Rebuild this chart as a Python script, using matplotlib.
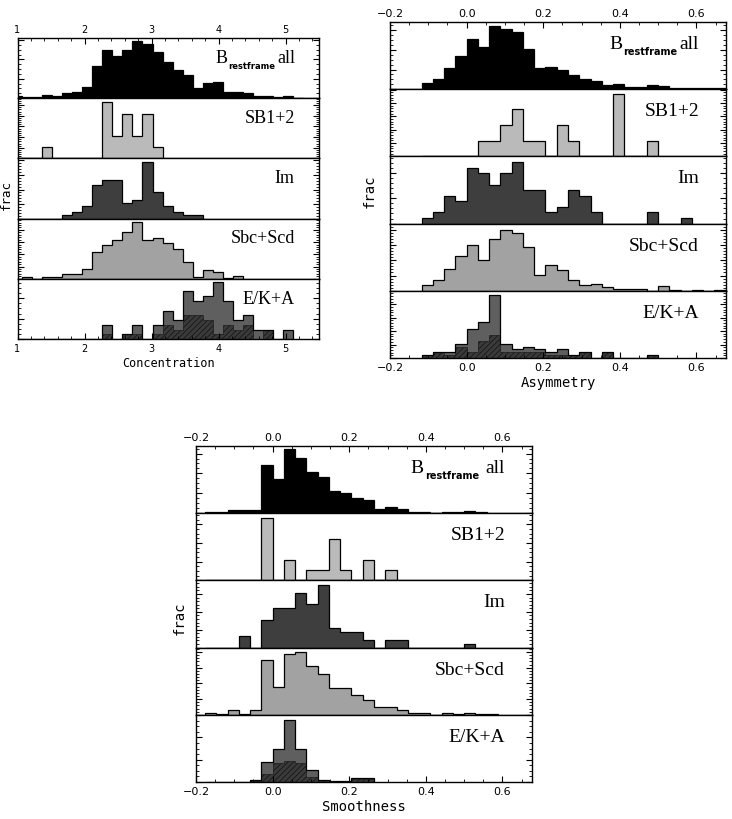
import matplotlib

matplotlib.use("Agg")

import matplotlib.pyplot as plt
import numpy as np
from matplotlib.ticker import AutoMinorLocator, MultipleLocator

# ---- histogram data (frac per bin) ----
# Concentration: bins of 0.15 starting at 0.915
conc_start, conc_width = 0.915, 0.15
conc_all = [0.006, 0.002, 0.002, 0.009, 0.005, 0.014, 0.016, 0.030, 0.084, 0.124,
            0.109, 0.124, 0.147, 0.140, 0.120, 0.092, 0.072, 0.061, 0.025, 0.038,
            0.042, 0.016, 0.015, 0.013, 0.005, 0.005, 0.002, 0.006, 0.0]
conc_sb = [0, 0, 0, 0.053, 0, 0, 0, 0, 0, 0.263, 0.105, 0.211, 0.105, 0.211, 0.053]
conc_im = [0, 0, 0, 0, 0, 0.011, 0.023, 0.043, 0.114, 0.134, 0.134, 0.052, 0.063,
           0.193, 0.091, 0.043, 0.023, 0.011, 0.011]
conc_sbc = [0, 0.009, 0, 0.009, 0.009, 0.020, 0.020, 0.039, 0.111, 0.138, 0.158,
            0.192, 0.232, 0.158, 0.165, 0.147, 0.122, 0.068, 0.009, 0.034, 0.026,
            0.003, 0.012]
conc_eka = [0, 0, 0, 0, 0, 0, 0, 0, 0, 0.035, 0, 0.012, 0.035, 0, 0.035, 0.070,
            0.047, 0.117, 0.094, 0.105, 0.140, 0.094, 0.047, 0.058, 0.023, 0.023,
            0, 0.023]
conc_eka_e = [0, 0, 0, 0, 0, 0, 0, 0, 0, 0.012, 0, 0.012, 0.012, 0, 0.012, 0.035,
              0.023, 0.058, 0.058, 0.047, 0.012, 0.035, 0.023, 0.035, 0, 0.023,
              0, 0]

# Asymmetry: bins of 0.0294 starting at -0.1176
asym_start, asym_width = -0.1176, 0.0294
asym_all = [0.015, 0.027, 0.055, 0.084, 0.128, 0.107, 0.162, 0.152, 0.145, 0.103,
            0.053, 0.056, 0.050, 0.036, 0.026, 0.021, 0.011, 0.014, 0.005, 0.005,
            0.010, 0.007, 0.002, 0.003, 0.003, 0.002, 0.003]
asym_sb = [0, 0, 0, 0, 0, 0.059, 0.059, 0.118, 0.176, 0.059, 0.059, 0, 0.118,
           0.059, 0, 0, 0, 0.235, 0, 0, 0.059]
asym_im = [0.011, 0.022, 0.055, 0.044, 0.110, 0.099, 0.077, 0.099, 0.121, 0.066,
           0.066, 0.022, 0.033, 0.066, 0.055, 0.022, 0, 0, 0, 0, 0.022, 0, 0,
           0.011]
asym_sbc = [0.019, 0.034, 0.072, 0.114, 0.149, 0.101, 0.170, 0.200, 0.189, 0.143,
            0.053, 0.083, 0.067, 0.034, 0.018, 0.023, 0.011, 0.007, 0.005, 0.005,
            0, 0.016, 0.003, 0, 0.003, 0, 0.003]
asym_eka = [0.011, 0.024, 0.024, 0.052, 0.108, 0.133, 0.234, 0.052, 0.033, 0.040,
            0.033, 0.024, 0.033, 0.011, 0.024, 0, 0.024, 0, 0, 0, 0.011]
asym_eka_e = [0.011, 0.024, 0.011, 0.040, 0.024, 0.064, 0.086, 0.024, 0.024, 0.024,
              0.024, 0.011, 0.011, 0.011, 0.024, 0, 0.024, 0, 0, 0, 0.011]

# Smoothness: bins of 0.0294 starting at -0.1764
smooth_start, smooth_width = -0.1764, 0.0294
smooth_all = [0.003, 0.002, 0.007, 0.007, 0.009, 0.120, 0.086, 0.161, 0.139, 0.103,
              0.092, 0.057, 0.050, 0.038, 0.032, 0.010, 0.015, 0.010, 0.004, 0.002,
              0, 0.003, 0.002, 0.005, 0.002]
smooth_sb = [0, 0, 0, 0, 0, 0.333, 0, 0.111, 0, 0.056, 0.056, 0.222, 0.056, 0,
             0.111, 0, 0.056]
smooth_im = [0, 0, 0, 0.033, 0, 0.077, 0.110, 0.110, 0.154, 0.121, 0.176, 0.055,
             0.044, 0.044, 0.022, 0, 0.022, 0.022, 0, 0, 0, 0, 0, 0.011]
smooth_sbc = [0.006, 0.002, 0.015, 0.002, 0.015, 0.176, 0.087, 0.195, 0.200, 0.154,
              0.131, 0.086, 0.086, 0.064, 0.046, 0.024, 0.024, 0.014, 0.006, 0.006,
              0, 0.006, 0.004, 0.006, 0.002, 0.002]
smooth_eka = [0, 0, 0, 0, 0.004, 0.045, 0.075, 0.140, 0.075, 0.028, 0.005, 0.003,
              0.003, 0.009, 0.009]
smooth_eka_e = [0, 0, 0, 0, 0.003, 0.019, 0.043, 0.048, 0.043, 0.011, 0.005, 0.003,
                0.003, 0.006, 0.006]

class_labels = ["all", "SB1+2", "Im", "Sbc+Scd", "E/K+A"]
class_colors = ["#000000", "#bababa", "#3e3e3e", "#a2a2a2", "#5f5f5f"]

W, H = 732, 820
plt.rcParams["font.family"] = "DejaVu Sans"
plt.rcParams["hatch.linewidth"] = 0.5
plt.rcParams["hatch.color"] = "#111111"
fig = plt.figure(figsize=(W / 100, H / 100), dpi=100)


def add_class_label(ax, label, size, sub_size, sub_gap):
    kw = dict(family="Liberation Serif", fontsize=size)
    if label != "all":
        ax.text(0.92, 0.68, label, transform=ax.transAxes, ha="right", va="center", **kw)
        return
    t_all = ax.text(0.92, 0.68, "all", transform=ax.transAxes, ha="right",
                    va="center", **kw)
    t_sub = ax.annotate("restframe", xy=(0, 0), xycoords=t_all,
                        xytext=(-sub_gap, -3), textcoords="offset points",
                        ha="right", va="bottom", fontsize=sub_size,
                        fontweight="bold")
    ax.annotate("B", xy=(0, 0), xycoords=(t_sub, t_all), xytext=(-0.5, 0),
                textcoords="offset points", ha="right", va="bottom", **kw)


def draw_group(box, xlim, start, width, panels, xmajor, xminor, xlabel,
               tick_size, label_size, sub_size, xlabel_size, sub_gap):
    left, right, top, bottom = box
    ph = (bottom - top) / len(panels)
    axes = []
    for i, (values, extra, ymax, ymajor, nminor) in enumerate(panels):
        panel_bottom = top + (i + 1) * ph
        ax = fig.add_axes([left / W, (H - panel_bottom) / H, (right - left) / W, ph / H])
        edges = start + width * np.arange(len(values) + 1)
        color = class_colors[i]
        ax.stairs(values, edges, fill=True, facecolor=color, edgecolor="none")
        if extra is not None:
            ax.stairs(extra, edges, fill=True, facecolor="#3a3a3a",
                      edgecolor="#111111", hatch="//////", linewidth=0.4)
        ax.stairs(values, edges, color="black", linewidth=0.9)
        ax.set_xlim(*xlim)
        ax.set_ylim(0, ymax)
        ax.xaxis.set_major_locator(MultipleLocator(xmajor))
        ax.xaxis.set_minor_locator(MultipleLocator(xminor))
        ax.yaxis.set_major_locator(MultipleLocator(ymajor))
        ax.yaxis.set_minor_locator(AutoMinorLocator(nminor))
        ax.tick_params(axis="y", which="both", direction="in", left=True,
                       right=True, labelleft=False)
        ax.tick_params(axis="y", which="major", length=4.5, width=0.8)
        ax.tick_params(axis="y", which="minor", length=2.2, width=0.6)
        first, last = i == 0, i == len(panels) - 1
        ax.tick_params(axis="x", which="both", direction="in", top=first,
                       bottom=last, labeltop=first, labelbottom=last,
                       labelsize=tick_size, pad=3)
        ax.tick_params(axis="x", which="major", length=4.5, width=0.8)
        ax.tick_params(axis="x", which="minor", length=2.5, width=0.6)
        for spine in ax.spines.values():
            spine.set_linewidth(1.0)
        add_class_label(ax, class_labels[i], label_size, sub_size, sub_gap)
        axes.append(ax)
    axes[-1].set_xlabel(xlabel, family="DejaVu Sans Mono", fontsize=xlabel_size,
                        labelpad=2)
    return axes


conc_panels = [
    (conc_all, None, 0.155, 0.05, 4),
    (conc_sb, None, 0.283, 0.05, 5),
    (conc_im, None, 0.207, 0.05, 5),
    (conc_sbc, None, 0.246, 0.05, 5),
    (conc_eka, conc_eka_e, 0.148, 0.05, 4),
]
asym_panels = [
    (asym_all, None, 0.171, 0.05, 4),
    (asym_sb, None, 0.252, 0.05, 5),
    (asym_im, None, 0.1325, 0.05, 5),
    (asym_sbc, None, 0.22, 0.05, 5),
    (asym_eka, asym_eka_e, 0.25, 0.05, 5),
]
smooth_panels = [
    (smooth_all, None, 0.169, 0.05, 4),
    (smooth_sb, None, 0.36, 0.1, 4),
    (smooth_im, None, 0.188, 0.05, 5),
    (smooth_sbc, None, 0.214, 0.05, 5),
    (smooth_eka, smooth_eka_e, 0.151, 0.05, 4),
]

draw_group((17.5, 319, 39, 340), (1.0, 5.5), conc_start, conc_width, conc_panels,
           1, 0.2, "Concentration", 7, 13, 6, 8.5, 1.5)
draw_group((390, 726, 23, 359), (-0.2, 0.677), asym_start, asym_width, asym_panels,
           0.2, 0.05, "Asymmetry", 8, 14, 7, 10, 1.5)
draw_group((196, 532, 447, 783), (-0.2, 0.677), smooth_start, smooth_width,
           smooth_panels, 0.2, 0.05, "Smoothness", 8, 14, 7, 10, 5)

for x, y, size in [(6, 195, 9), (370, 191, 10), (180, 618, 10)]:
    fig.text(x / W, 1 - y / H, "frac", rotation=90, ha="center", va="center",
             family="DejaVu Sans Mono", fontsize=size)

fig.savefig("out.png", dpi=100)
plt.close(fig)
